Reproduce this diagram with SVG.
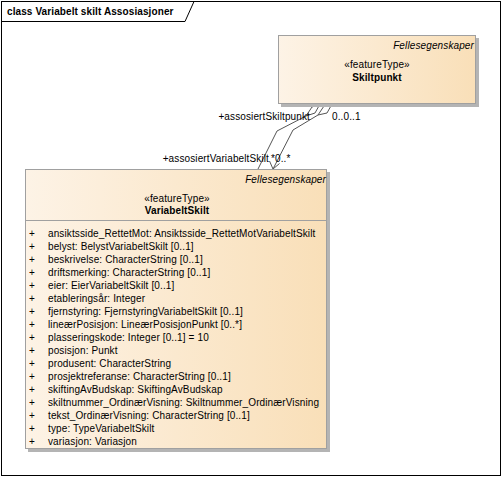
<svg xmlns="http://www.w3.org/2000/svg" width="503" height="477" viewBox="0 0 503 477">
<defs>
<linearGradient id="fill" x1="0" y1="0" x2="1" y2="0">
<stop offset="0" stop-color="#FDF3E6"/>
<stop offset="1" stop-color="#F9DFB8"/>
</linearGradient>
<style>
text{font-family:"Liberation Sans",Arial,sans-serif;font-size:10px;letter-spacing:0.12px;fill:#000}
.b{font-weight:bold}
.i{font-style:italic}
.m{text-anchor:middle}
.e{text-anchor:end}
.box{fill:url(#fill);stroke:#A0A0A0;stroke-width:1}
.sh{fill:#B4B4B4}
.ln{fill:none;stroke:#555;stroke-width:1}
.dia{fill:#fff;stroke:#555;stroke-width:1}
</style>
</defs>
<rect x="0" y="0" width="503" height="477" fill="#fff"/>
<g id="frame">
<rect x="1.5" y="1.5" width="499" height="474" fill="none" stroke="#000" stroke-width="1"/>
<path d="M1.5,21.5 H185 L194,1.5" fill="none" stroke="#000" stroke-width="1"/>
<text x="7" y="15" class="b" style="letter-spacing:0.1px">class Variabelt skilt Assosiasjoner</text>
</g>
<g id="connectors">
<polyline class="ln" points="258,169 277,131 306,116"/>
<polygon class="dia" points="306,116 312,107 320,104 315,113"/>
<polyline class="ln" points="273,169 293,130 318,115"/>
<polygon class="dia" points="318,115 324,106 332,104 327,113"/>
<polyline class="ln" points="269.5,161 273,169 279.5,163.5"/>
<text x="310" y="119.5" class="e">+assosiertSkiltpunkt</text>
<text x="332" y="119.5">0..0..1</text>
<text x="269" y="161.5" class="e">+assosiertVariabeltSkilt</text>
<text x="271" y="161.5">*0..*</text>
</g>
<g id="Skiltpunkt">
<rect class="sh" x="281" y="38" width="198" height="69"/>
<rect class="box" x="278.5" y="35.5" width="197" height="68"/>
<text x="474" y="48.5" class="i e">Fellesegenskaper</text>
<text x="377" y="67.5" class="m">«featureType»</text>
<text x="377" y="80.5" class="m b">Skiltpunkt</text>
</g>
<g id="VariabeltSkilt">
<rect class="sh" x="28" y="172" width="302" height="280"/>
<rect class="box" x="25.5" y="169.5" width="301" height="279"/>
<line x1="25.5" y1="220.5" x2="326.5" y2="220.5" stroke="#A0A0A0"/>
<text x="326" y="182.5" class="i e">Fellesegenskaper</text>
<text x="177" y="201.5" class="m">«featureType»</text>
<text x="177" y="213.5" class="m b">VariabeltSkilt</text>
<g>
<text x="29" y="237">+</text><text x="48" y="237">ansiktsside_RettetMot: Ansiktsside_RettetMotVariabeltSkilt</text>
<text x="29" y="250">+</text><text x="48" y="250">belyst: BelystVariabeltSkilt [0..1]</text>
<text x="29" y="263">+</text><text x="48" y="263">beskrivelse: CharacterString [0..1]</text>
<text x="29" y="276">+</text><text x="48" y="276">driftsmerking: CharacterString [0..1]</text>
<text x="29" y="289">+</text><text x="48" y="289">eier: EierVariabeltSkilt [0..1]</text>
<text x="29" y="302">+</text><text x="48" y="302">etableringsår: Integer</text>
<text x="29" y="315">+</text><text x="48" y="315">fjernstyring: FjernstyringVariabeltSkilt [0..1]</text>
<text x="29" y="328">+</text><text x="48" y="328">lineærPosisjon: LineærPosisjonPunkt [0..*]</text>
<text x="29" y="341">+</text><text x="48" y="341">plasseringskode: Integer [0..1] = 10</text>
<text x="29" y="354">+</text><text x="48" y="354">posisjon: Punkt</text>
<text x="29" y="367">+</text><text x="48" y="367">produsent: CharacterString</text>
<text x="29" y="380">+</text><text x="48" y="380">prosjektreferanse: CharacterString [0..1]</text>
<text x="29" y="393">+</text><text x="48" y="393">skiftingAvBudskap: SkiftingAvBudskap</text>
<text x="29" y="406">+</text><text x="48" y="406">skiltnummer_OrdinærVisning: Skiltnummer_OrdinærVisning</text>
<text x="29" y="419">+</text><text x="48" y="419">tekst_OrdinærVisning: CharacterString [0..1]</text>
<text x="29" y="432">+</text><text x="48" y="432">type: TypeVariabeltSkilt</text>
<text x="29" y="445">+</text><text x="48" y="445">variasjon: Variasjon</text>
</g>
</g>
</svg>
